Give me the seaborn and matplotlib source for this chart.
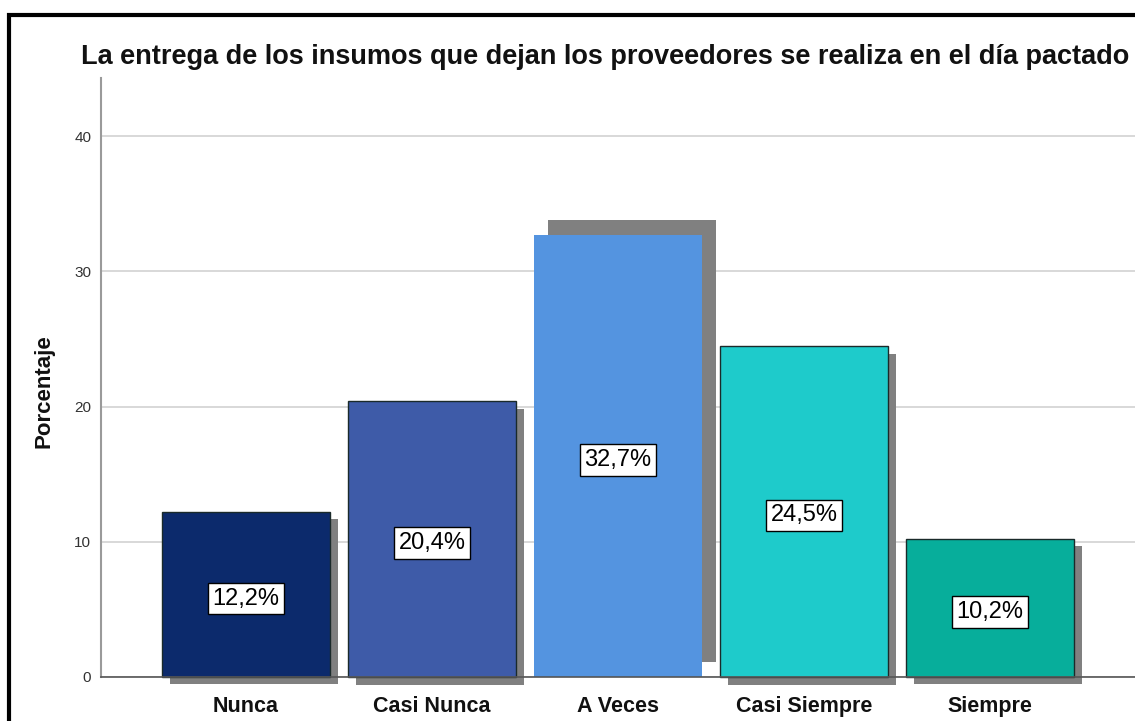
import matplotlib
matplotlib.use("Agg")
import matplotlib.pyplot as plt
import matplotlib.transforms as mtransforms
from matplotlib.patches import Rectangle
import seaborn as sns
import pandas as pd

categorias = ["Nunca", "Casi Nunca", "A Veces", "Casi Siempre", "Siempre"]
porcentajes = [12.2, 20.4, 32.7, 24.5, 10.2]
etiquetas = ["12,2%", "20,4%", "32,7%", "24,5%", "10,2%"]
yticks = [0, 10, 20, 30, 40]
titulo = "La entrega de los insumos que dejan los proveedores se realiza en el día pactado"

colores = ["#0c2a6c", "#3e5ba8", "#5494e0", "#1ecbcb", "#07ae9b"]
sombra_px = [(8, -7), (8, -8), (14, 15), (8, -8), (8, -7)]

sns.set_theme(style="white")
plt.rcParams["font.family"] = ["Liberation Sans", "DejaVu Sans"]

W, H = 1135, 721
fig = plt.figure(figsize=(W / 100, H / 100), dpi=100)
fig.patch.set_facecolor("white")
ax = fig.add_axes([101 / W, 1 - 677 / H, 1 - 101 / W, (677 - 78) / H])

df = pd.DataFrame({"cat": categorias, "pct": porcentajes})

# shadows
sns.barplot(data=df, x="cat", y="pct", color="#808080", width=0.9,
            saturation=1, ax=ax, zorder=2)
sombras = list(ax.patches)
for p, (dx, dy) in zip(sombras, sombra_px):
    p.set_transform(ax.transData +
                    mtransforms.ScaledTranslation(dx / 100, dy / 100, fig.dpi_scale_trans))
    p.set_edgecolor("none")
    p.set_clip_on(False)

sns.barplot(data=df, x="cat", y="pct", hue="cat", palette=colores, width=0.9,
            saturation=1, legend=False, ax=ax, edgecolor="#1a2a2a",
            linewidth=1.0, zorder=3)
barras = [p for p in ax.patches if p not in sombras]
for p in barras:
    p.set_clip_on(False)
    p.set_zorder(3)
barras[2].set_edgecolor("none")

for i, (v, t) in enumerate(zip(porcentajes, etiquetas)):
    ax.text(i, v / 2 - 0.3, t, ha="center", va="center", fontsize=17,
            color="black", zorder=5,
            bbox=dict(boxstyle="square,pad=0.2", fc="white", ec="black", lw=1.0))

ax.set_xlim(-0.78, 4.78)
ax.set_ylim(0, 44.3)
ax.set_yticks(yticks)
ax.set_yticklabels([str(t) for t in yticks])
ax.yaxis.grid(True, color="#d2d2d2", linewidth=1.2, zorder=0)
ax.set_axisbelow(True)
ax.tick_params(axis="y", length=0, pad=7, labelsize=11, labelcolor="#333333")
ax.tick_params(axis="x", length=0, pad=14, labelsize=15.5)
for lbl in ax.get_xticklabels():
    lbl.set_fontweight("bold")
    lbl.set_color("#111111")
ax.set_xlabel("")
ax.set_ylabel("Porcentaje", fontsize=16, fontweight="bold", color="#111111")
ax.yaxis.set_label_coords(-0.045, 0.477)

for s in ["top", "right"]:
    ax.spines[s].set_visible(False)
ax.spines["left"].set_color("#9a9a9a")
ax.spines["left"].set_linewidth(1.5)
ax.spines["bottom"].set_color("#555555")
ax.spines["bottom"].set_linewidth(1.2)
ax.spines["bottom"].set_zorder(4)

fig.text(605 / W, 1 - 57 / H, titulo, ha="center", va="center",
         fontsize=19.5, fontweight="bold", color="#111111")

# outer frame (partially cropped)
fig.patches.append(Rectangle((9 / W, -0.2), 1.2, 1 - 15 / H + 0.2,
                             transform=fig.transFigure, fill=False,
                             ec="black", lw=3, clip_on=False))

fig.savefig("out.png", dpi=100, facecolor="white")
